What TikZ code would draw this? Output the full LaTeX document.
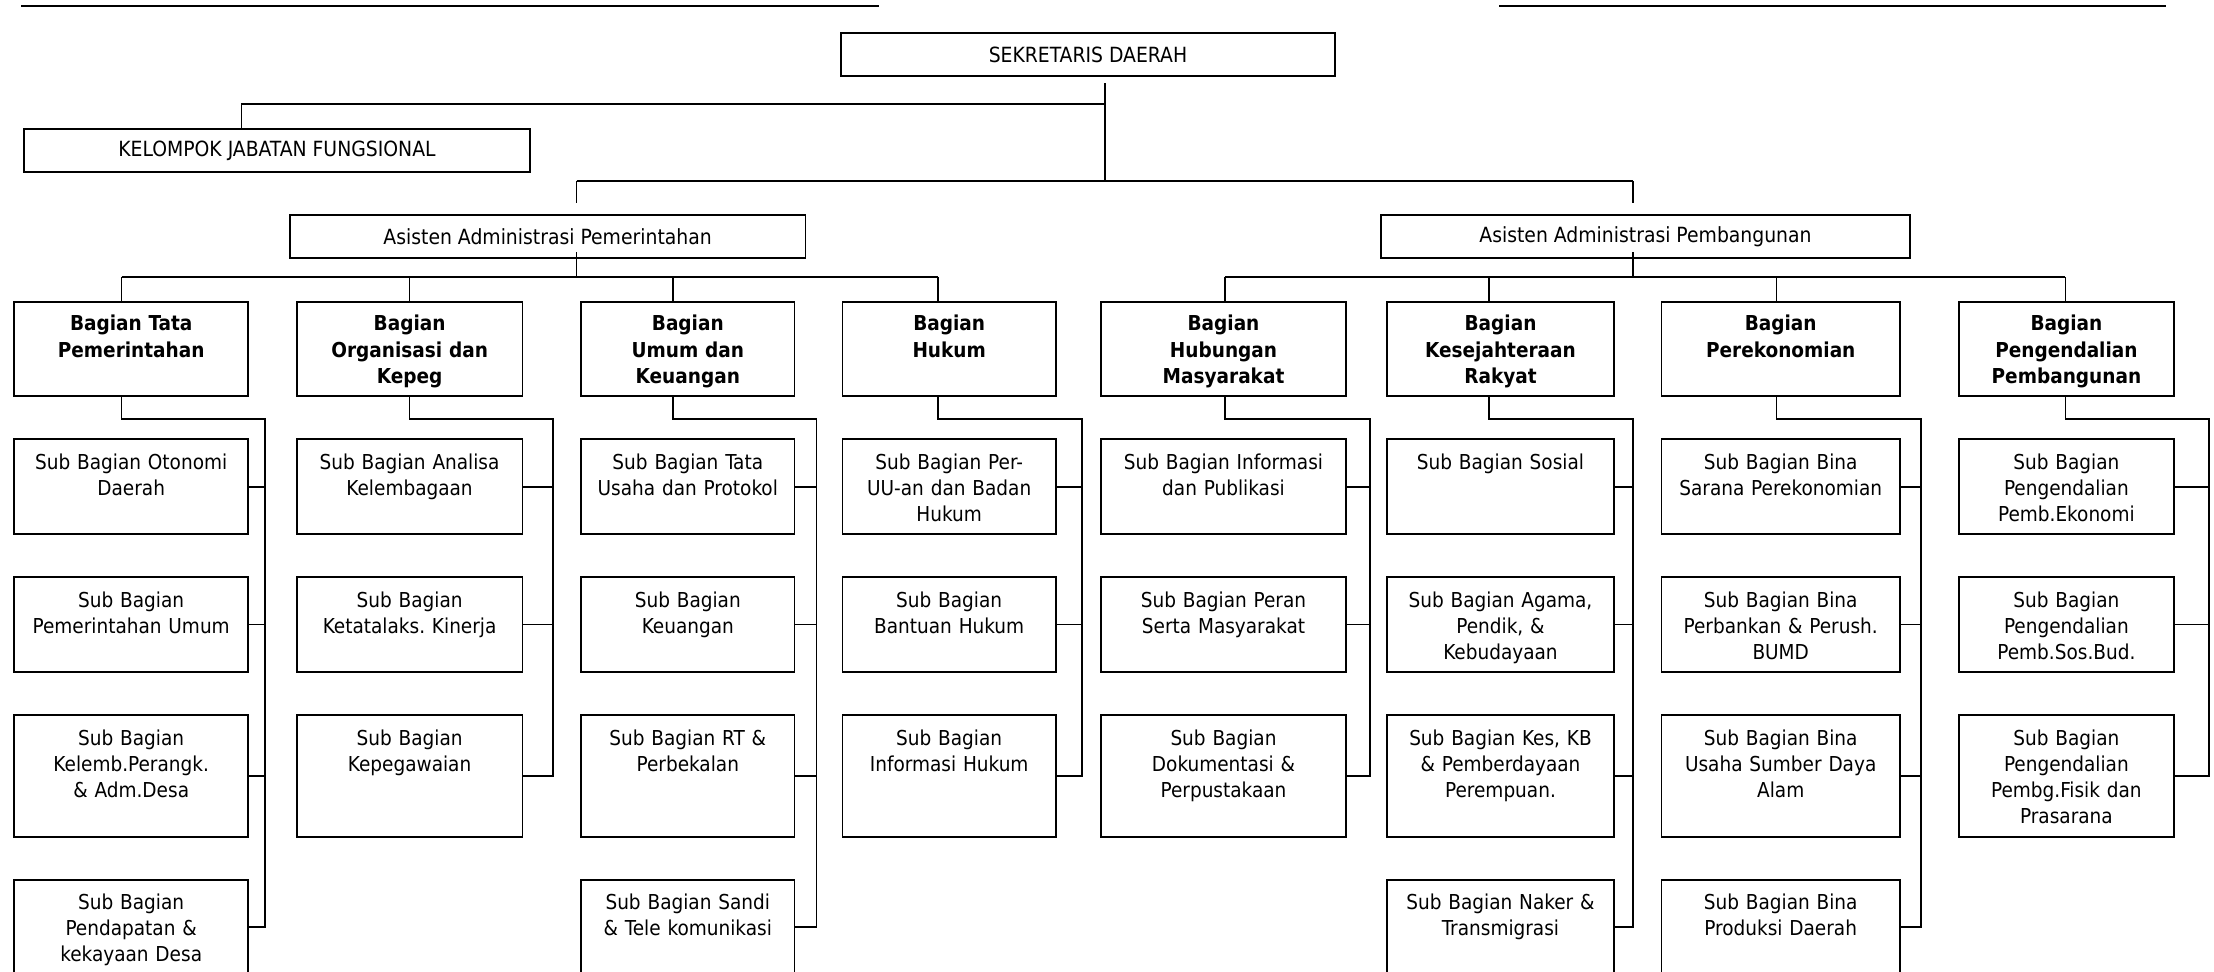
\documentclass[tikz,border=0pt]{standalone}
\usepackage{fontspec}
\setmainfont{DejaVu Sans Condensed}
\usepackage{tikz}
\usetikzlibrary{positioning}
\frenchspacing
\tikzstyle{orgbox} = [rectangle, draw=black, line width=1pt, inner sep=0pt, outer sep=0pt, align=center]
\tikzstyle{topbox} = [orgbox, minimum height=0.866cm, font=\fontsize{11.9}{14.8}\selectfont]
\tikzstyle{bagian} = [orgbox, text height=0.58cm, text depth=1.31cm, font=\bfseries\fontsize{11.7}{15}\selectfont]
\tikzstyle{sub} = [orgbox, text height=0.6cm, text depth=1.3cm, font=\fontsize{11.7}{14.8}\selectfont]
\tikzstyle{subtall} = [sub, text depth=1.83cm]
\tikzstyle{link} = [line width=0.9pt]
\tikzstyle{col1} = [text width=4.68cm]
\tikzstyle{col2} = [text width=4.52cm]
\tikzstyle{col3} = [text width=4.27cm]
\tikzstyle{col4} = [text width=4.27cm]
\tikzstyle{col5} = [text width=4.89cm]
\tikzstyle{col6} = [text width=4.53cm]
\tikzstyle{col7} = [text width=4.77cm]
\tikzstyle{col8} = [text width=4.31cm]

\begin{document}
\begin{tikzpicture}[x=0.02cm, y=-0.02cm, node distance=0.86cm]
\useasboundingbox (0,0) rectangle (2214,972);
\clip (0,0) rectangle (2214,972);

\draw [line width=1.2pt] (21,6) -- (879,6);
\draw [line width=1.2pt] (1499,6) -- (2166,6);

\node (sek) [topbox, minimum width=9.88cm] at (1088,54.4) {SEKRETARIS DAERAH};
\node (kjf) [topbox, minimum width=10.12cm] at (277,150.6) {KELOMPOK JABATAN FUNGSIONAL};
\node (ap) [topbox, minimum width=10.32cm] at (547.6,236.5) {Asisten Administrasi Pemerintahan};
\node (apb) [topbox, minimum width=10.58cm] at (1645.5,236.5) {Asisten Administrasi Pembangunan};

\node (b1) [bagian, col1] at (131.2,349) {Bagian Tata\\Pemerintahan};
\node (b2) [bagian, col2] at (409.6,349) {Bagian\\Organisasi dan\\Kepeg};
\node (b3) [bagian, col3] at (687.8,349) {Bagian\\Umum dan\\Keuangan};
\node (b4) [bagian, col4] at (949.2,349) {Bagian\\Hukum};
\node (b5) [bagian, col5] at (1223.5,349) {Bagian\\Hubungan\\Masyarakat};
\node (b6) [bagian, col6] at (1500.5,349) {Bagian\\Kesejahteraan\\Rakyat};
\node (b7) [bagian, col7] at (1780.7,349) {Bagian\\Perekonomian};
\node (b8) [bagian, col8] at (2066.4,349) {Bagian\\Pengendalian\\Pembangunan};

\node (s11) [sub, col1, below=of b1] {Sub Bagian Otonomi\\Daerah};
\node (s12) [sub, col1, below=of s11] {Sub Bagian\\Pemerintahan Umum};
\node (s13) [subtall, col1, below=of s12] {Sub Bagian\\Kelemb.Perangk.\\\& Adm.Desa};
\node (s14) [sub, col1, below=of s13] {Sub Bagian\\Pendapatan \&\\kekayaan Desa};

\node (s21) [sub, col2, below=of b2] {Sub Bagian Analisa\\Kelembagaan};
\node (s22) [sub, col2, below=of s21] {Sub Bagian\\Ketatalaks. Kinerja};
\node (s23) [subtall, col2, below=of s22] {Sub Bagian\\Kepegawaian};

\node (s31) [sub, col3, below=of b3] {Sub Bagian Tata\\Usaha dan Protokol};
\node (s32) [sub, col3, below=of s31] {Sub Bagian\\Keuangan};
\node (s33) [subtall, col3, below=of s32] {Sub Bagian RT \&\\Perbekalan};
\node (s34) [sub, col3, below=of s33] {Sub Bagian Sandi\\\& Tele komunikasi};

\node (s41) [sub, col4, below=of b4] {Sub Bagian Per-\\UU-an dan Badan\\Hukum};
\node (s42) [sub, col4, below=of s41] {Sub Bagian\\Bantuan Hukum};
\node (s43) [subtall, col4, below=of s42] {Sub Bagian\\Informasi Hukum};

\node (s51) [sub, col5, below=of b5] {Sub Bagian Informasi\\dan Publikasi};
\node (s52) [sub, col5, below=of s51] {Sub Bagian Peran\\Serta Masyarakat};
\node (s53) [subtall, col5, below=of s52] {Sub Bagian\\Dokumentasi \&\\Perpustakaan};

\node (s61) [sub, col6, below=of b6] {Sub Bagian Sosial};
\node (s62) [sub, col6, below=of s61] {Sub Bagian Agama,\\Pendik, \&\\Kebudayaan};
\node (s63) [subtall, col6, below=of s62] {Sub Bagian Kes, KB\\\& Pemberdayaan\\Perempuan.};
\node (s64) [sub, col6, below=of s63] {Sub Bagian Naker \&\\Transmigrasi};

\node (s71) [sub, col7, below=of b7] {Sub Bagian Bina\\Sarana Perekonomian};
\node (s72) [sub, col7, below=of s71] {Sub Bagian Bina\\Perbankan \& Perush.\\BUMD};
\node (s73) [subtall, col7, below=of s72] {Sub Bagian Bina\\Usaha Sumber Daya\\Alam};
\node (s74) [sub, col7, below=of s73] {Sub Bagian Bina\\Produksi Daerah};

\node (s81) [sub, col8, below=of b8] {Sub Bagian\\Pengendalian\\Pemb.Ekonomi};
\node (s82) [sub, col8, below=of s81] {Sub Bagian\\Pengendalian\\Pemb.Sos.Bud.};
\node (s83) [subtall, col8, below=of s82] {Sub Bagian\\Pengendalian\\Pembg.Fisik dan\\Prasarana};

\coordinate (jsek) at (1105,104);
\coordinate (jkjf) at (241.5,104);
\coordinate (jap) at (576.7,181);
\coordinate (japb) at (1633,181);
\coordinate (jb1) at (576.7,277);
\coordinate (jb2) at (1633,277);
\coordinate (t1) at (121.5,277);
\coordinate (t2) at (409.6,277);
\coordinate (t3) at (673,277);
\coordinate (t4) at (937.9,277);
\coordinate (t5) at (1224.9,277);
\coordinate (t6) at (1489,277);
\coordinate (t7) at (1776.5,277);
\coordinate (t8) at (2065.3,277);
\coordinate (v1) at (265,419);
\coordinate (v2) at (553,419);
\coordinate (v3) at (816.4,419);
\coordinate (v4) at (1081.9,419);
\coordinate (v5) at (1369.7,419);
\coordinate (v6) at (1632.9,419);
\coordinate (v7) at (1921,419);
\coordinate (v8) at (2208.7,419);

\draw [link] ([yshift=-0.14cm]sek.south -| jsek) -- (jap -| jsek);
\draw [link] (jsek) -- (jkjf) -- (kjf.north -| jkjf);
\draw [link] (jap) -- (japb);
\draw [link] (jap) -- ([yshift=0.24cm]ap.north -| jap);
\draw [link] (japb) -- ([yshift=0.24cm]apb.north -| japb);
\draw [link] ([yshift=0.12cm]ap.south -| jb1) -- (jb1);
\draw [link] ([yshift=0.12cm]apb.south -| jb2) -- (jb2);
\draw [link] (t1) -- (t4);
\draw [link] (t5) -- (t8);
\draw [link] (t1) -- (b1.north -| t1);
\draw [link] (t2) -- (b2.north -| t2);
\draw [link] (t3) -- (b3.north -| t3);
\draw [link] (t4) -- (b4.north -| t4);
\draw [link] (t5) -- (b5.north -| t5);
\draw [link] (t6) -- (b6.north -| t6);
\draw [link] (t7) -- (b7.north -| t7);
\draw [link] (t8) -- (b8.north -| t8);

\draw [link] (b1.south -| t1) |- (v1) |- (s14.east);
\draw [link] (s11.east) -- (s11.east -| v1);
\draw [link] (s12.east) -- (s12.east -| v1);
\draw [link] (s13.east) -- (s13.east -| v1);
\draw [link] (b2.south -| t2) |- (v2) |- (s23.east);
\draw [link] (s21.east) -- (s21.east -| v2);
\draw [link] (s22.east) -- (s22.east -| v2);
\draw [link] (b3.south -| t3) |- (v3) |- (s34.east);
\draw [link] (s31.east) -- (s31.east -| v3);
\draw [link] (s32.east) -- (s32.east -| v3);
\draw [link] (s33.east) -- (s33.east -| v3);
\draw [link] (b4.south -| t4) |- (v4) |- (s43.east);
\draw [link] (s41.east) -- (s41.east -| v4);
\draw [link] (s42.east) -- (s42.east -| v4);
\draw [link] (b5.south -| t5) |- (v5) |- (s53.east);
\draw [link] (s51.east) -- (s51.east -| v5);
\draw [link] (s52.east) -- (s52.east -| v5);
\draw [link] (b6.south -| t6) |- (v6) |- (s64.east);
\draw [link] (s61.east) -- (s61.east -| v6);
\draw [link] (s62.east) -- (s62.east -| v6);
\draw [link] (s63.east) -- (s63.east -| v6);
\draw [link] (b7.south -| t7) |- (v7) |- (s74.east);
\draw [link] (s71.east) -- (s71.east -| v7);
\draw [link] (s72.east) -- (s72.east -| v7);
\draw [link] (s73.east) -- (s73.east -| v7);
\draw [link] (b8.south -| t8) |- (v8) |- (s83.east);
\draw [link] (s81.east) -- (s81.east -| v8);
\draw [link] (s82.east) -- (s82.east -| v8);
\end{tikzpicture}
\end{document}
